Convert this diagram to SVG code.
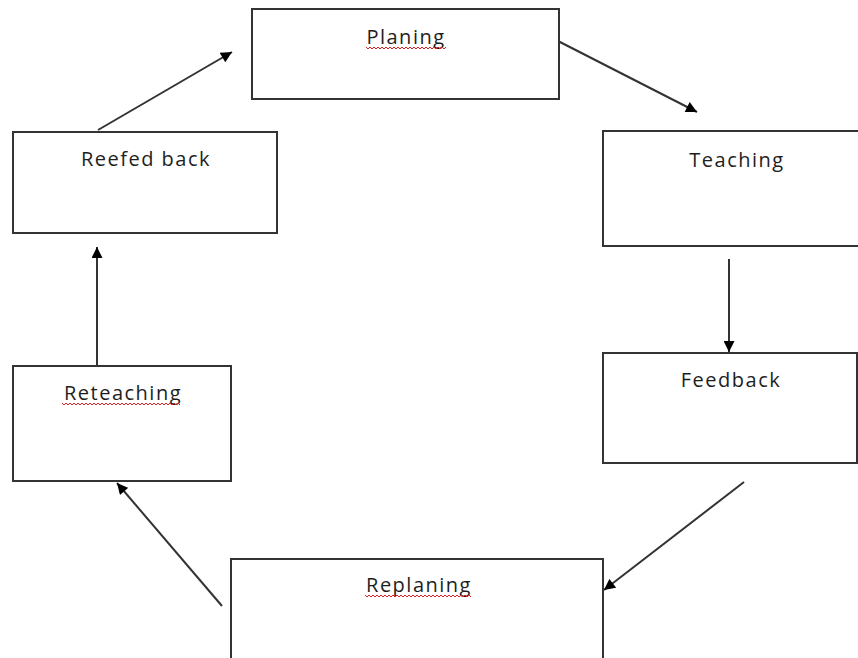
<svg xmlns="http://www.w3.org/2000/svg" width="858" height="658" viewBox="0 0 858 658">
<style>
.box{fill:#fff;stroke:#333;stroke-width:2}
.lbl{font-family:"Open Sans","Liberation Sans",sans-serif;font-size:20px;letter-spacing:1.5px;fill:#1e1e1e;text-anchor:middle}
.conn{stroke:#333;stroke-width:2;fill:none;marker-end:url(#ah)}
.wave{stroke:#e02020;stroke-width:1;fill:none}
</style>
<defs>
<marker id="ah" viewBox="0 0 10 10" refX="10" refY="5" markerWidth="12" markerHeight="11" markerUnits="userSpaceOnUse" orient="auto">
<path d="M0,0 L10,5 L0,10 z" fill="#000"/>
</marker>
</defs>
<rect width="858" height="658" fill="#fff"/>
<g id="connectors">
<line class="conn" x1="98" y1="130" x2="232" y2="52"/>
<line class="conn" x1="558" y1="41" x2="697" y2="112"/>
<line class="conn" x1="729" y1="259" x2="729" y2="352"/>
<line class="conn" x1="744" y1="482" x2="604" y2="590"/>
<line class="conn" x1="222" y1="606" x2="117" y2="483"/>
<line class="conn" x1="97" y1="365" x2="97" y2="247"/>
</g>
<g id="planing">
<rect class="box" x="252" y="9" width="307" height="90"/>
<text class="lbl" x="406" y="44">Planing</text>
<path class="wave" d="M366,47 l2,2 l2,-2 l2,2 l2,-2 l2,2 l2,-2 l2,2 l2,-2 l2,2 l2,-2 l2,2 l2,-2 l2,2 l2,-2 l2,2 l2,-2 l2,2 l2,-2 l2,2 l2,-2 l2,2 l2,-2 l2,2 l2,-2 l2,2 l2,-2 l2,2 l2,-2 l2,2 l2,-2 l2,2 l2,-2 l2,2 l2,-2 l2,2 l2,-2 l2,2 l2,-2 l2,2 l2,-2"/>
</g>
<g id="teaching">
<rect class="box" x="603" y="131" width="270" height="115"/>
<text class="lbl" x="737" y="167">Teaching</text>
</g>
<g id="feedback">
<rect class="box" x="603" y="353" width="254" height="110"/>
<text class="lbl" x="731" y="387">Feedback</text>
</g>
<g id="replaning">
<rect class="box" x="231" y="559" width="372" height="110"/>
<text class="lbl" x="419" y="592">Replaning</text>
<path class="wave" d="M365,595 l2,2 l2,-2 l2,2 l2,-2 l2,2 l2,-2 l2,2 l2,-2 l2,2 l2,-2 l2,2 l2,-2 l2,2 l2,-2 l2,2 l2,-2 l2,2 l2,-2 l2,2 l2,-2 l2,2 l2,-2 l2,2 l2,-2 l2,2 l2,-2 l2,2 l2,-2 l2,2 l2,-2 l2,2 l2,-2 l2,2 l2,-2 l2,2 l2,-2 l2,2 l2,-2 l2,2 l2,-2 l2,2 l2,-2 l2,2 l2,-2 l2,2 l2,-2 l2,2 l2,-2 l2,2 l2,-2 l2,2 l2,-2 l2,2"/>
</g>
<g id="reteaching">
<rect class="box" x="13" y="366" width="218" height="115"/>
<text class="lbl" x="123" y="400">Reteaching</text>
<path class="wave" d="M62,403 l2,2 l2,-2 l2,2 l2,-2 l2,2 l2,-2 l2,2 l2,-2 l2,2 l2,-2 l2,2 l2,-2 l2,2 l2,-2 l2,2 l2,-2 l2,2 l2,-2 l2,2 l2,-2 l2,2 l2,-2 l2,2 l2,-2 l2,2 l2,-2 l2,2 l2,-2 l2,2 l2,-2 l2,2 l2,-2 l2,2 l2,-2 l2,2 l2,-2 l2,2 l2,-2 l2,2 l2,-2 l2,2 l2,-2 l2,2 l2,-2 l2,2 l2,-2 l2,2 l2,-2 l2,2 l2,-2 l2,2 l2,-2 l2,2 l2,-2 l2,2 l2,-2 l2,2 l2,-2 l2,2"/>
</g>
<g id="reefed-back">
<rect class="box" x="13" y="132" width="264" height="101"/>
<text class="lbl" x="146" y="166">Reefed back</text>
</g>
</svg>
